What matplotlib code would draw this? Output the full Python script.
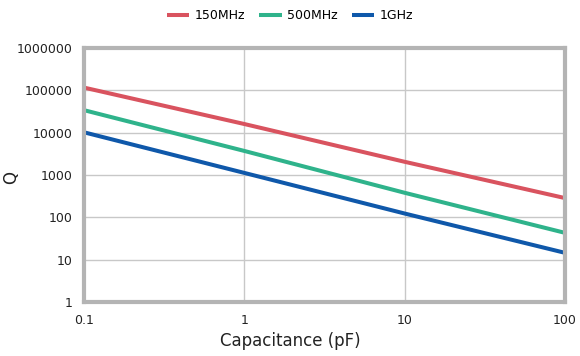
import matplotlib
matplotlib.use("Agg")
import matplotlib.pyplot as plt
from matplotlib.ticker import FixedLocator, FixedFormatter, NullLocator

# data
cap_pf = [0.1, 1, 10, 100]
q_150mhz = [116000, 16000, 2050, 285]
q_500mhz = [34000, 3700, 380, 43]
q_1ghz = [10200, 1120, 123, 14.5]

series_names = ["150MHz", "500MHz", "1GHz"]
series_colors = ["#d9535f", "#2fb38b", "#0f58aa"]

x_ticks = [0.1, 1, 10, 100]
x_labels = ["0.1", "1", "10", "100"]
y_ticks = [1, 10, 100, 1000, 10000, 100000, 1000000]
y_labels = ["1", "10", "100", "1000", "10000", "100000", "1000000"]

plt.rcParams["font.family"] = ["DejaVu Sans"]

fig = plt.figure(figsize=(5.8, 3.56), dpi=100)
ax = fig.add_axes([0.1448, 0.1517, 0.8293, 0.7135])

for vals, name, col in zip([q_150mhz, q_500mhz, q_1ghz], series_names, series_colors):
    ax.plot(cap_pf, vals, color=col, lw=2.9, label=name, solid_capstyle="butt")

ax.set_xscale("log")
ax.set_yscale("log")
ax.set_xlim(0.1, 100)
ax.set_ylim(1, 1000000)

ax.xaxis.set_major_locator(FixedLocator(x_ticks))
ax.xaxis.set_major_formatter(FixedFormatter(x_labels))
ax.xaxis.set_minor_locator(NullLocator())
ax.yaxis.set_major_locator(FixedLocator(y_ticks))
ax.yaxis.set_major_formatter(FixedFormatter(y_labels))
ax.yaxis.set_minor_locator(NullLocator())

ax.grid(True, color="#c8c8c8", lw=1)
ax.set_axisbelow(True)
ax.tick_params(length=0, labelsize=9, colors="#222222")
ax.tick_params(axis="y", pad=8)
ax.tick_params(axis="x", pad=9)

for sp in ax.spines.values():
    sp.set_color("#b4b4b4")
    sp.set_linewidth(3)

ax.set_xlabel("Capacitance (pF)", fontsize=12, color="#222222")
ax.set_ylabel("Q", fontsize=12, color="#222222")
ax.xaxis.set_label_coords(0.428, -0.12)
ax.yaxis.set_label_coords(-0.133, 0.49)

fig.legend(loc="upper center", bbox_to_anchor=(0.5, 1.005), ncol=3, frameon=False,
           fontsize=9, handlelength=1.8, columnspacing=1.1, handletextpad=0.45)

fig.savefig("out.png", dpi=100)
